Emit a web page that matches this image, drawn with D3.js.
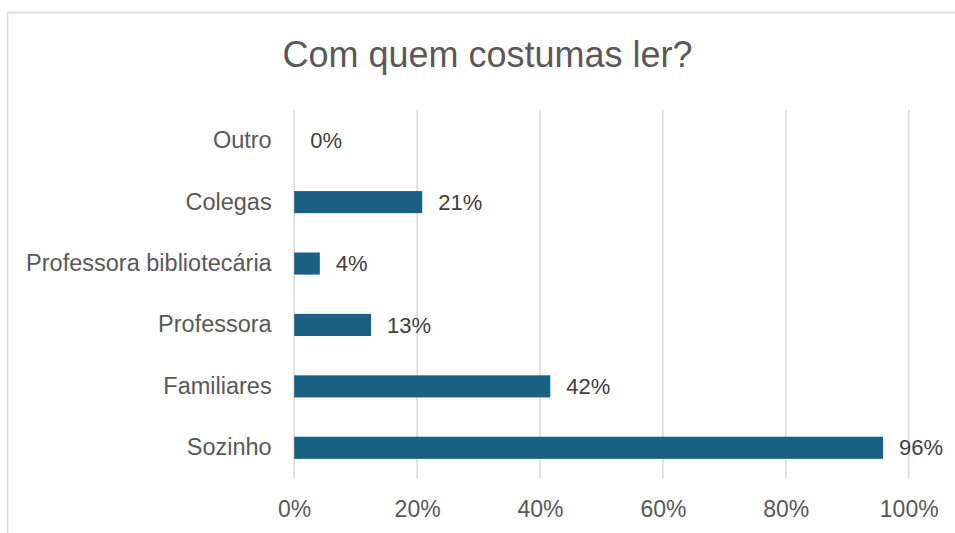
<!DOCTYPE html>
<html><head><meta charset="utf-8">
<script src="https://cdn.jsdelivr.net/npm/d3@7"></script>
<style>body{margin:0;background:#fff;}svg{display:block;font-family:"Liberation Sans",Arial,sans-serif;}</style>
</head><body>
<script>
const categories = ["Outro","Colegas","Professora bibliotecária","Professora","Familiares","Sozinho"];
const values = [0,0.2083,0.0417,0.125,0.4167,0.9583];
const valueLabels = ["0%","21%","4%","13%","42%","96%"];
const ticks = [0,0.2,0.4,0.6,0.8,1.0];
const title = "Com quem costumas ler?";

const W=955,H=533;
const svg=d3.select("body").append("svg").attr("width",W).attr("height",H);
svg.append("rect").attr("x",7.5).attr("y",12.5).attr("width",980).attr("height",560)
  .attr("fill","#fff").attr("stroke","#d9d9d9").attr("stroke-width",1.5);
svg.append("text").attr("x",487.5).attr("y",66.5).attr("text-anchor","middle")
  .attr("font-size",36).attr("fill","#595959").text(title);

const x=d3.scaleLinear().domain([0,1]).range([294.2,908.7]);
const y=d3.scaleBand().domain(categories).range([110,478.5]).paddingInner(0.64).paddingOuter(0.32);

const g=svg.append("g");
g.selectAll("line.grid").data(ticks).join("line").attr("class","grid")
  .attr("x1",d=>x(d)).attr("x2",d=>x(d)).attr("y1",110).attr("y2",478.5)
  .attr("stroke","#d9d9d9").attr("stroke-width",1.5);

const xAxis=d3.axisBottom(x).tickValues(ticks).tickFormat(d3.format(".0%")).tickSize(0);
const ax=svg.append("g").attr("transform","translate(0,498)").call(xAxis);
ax.select(".domain").remove();
ax.selectAll("text").attr("font-size",23).attr("fill","#595959").attr("font-family","Liberation Sans, Arial, sans-serif");

const yAxis=d3.axisLeft(y).tickSize(0).tickPadding(22.5);
const ay=svg.append("g").attr("transform","translate(294.2,0)").call(yAxis);
ay.select(".domain").remove();
ay.selectAll("text").attr("font-size",23.5).attr("fill","#595959").attr("font-family","Liberation Sans, Arial, sans-serif");

g.selectAll("rect.bar").data(categories).join("rect").attr("class","bar")
  .attr("x",x(0)).attr("y",d=>y(d)).attr("height",y.bandwidth())
  .attr("width",(d,i)=>x(values[i])-x(0)).attr("fill","#1a6083");

g.selectAll("text.val").data(categories).join("text").attr("class","val")
  .attr("x",(d,i)=>x(values[i])+16).attr("y",d=>y(d)+y.bandwidth()/2).attr("dy","0.35em")
  .attr("font-size",22).attr("fill","#404040").text((d,i)=>valueLabels[i]);
</script>
</body></html>
